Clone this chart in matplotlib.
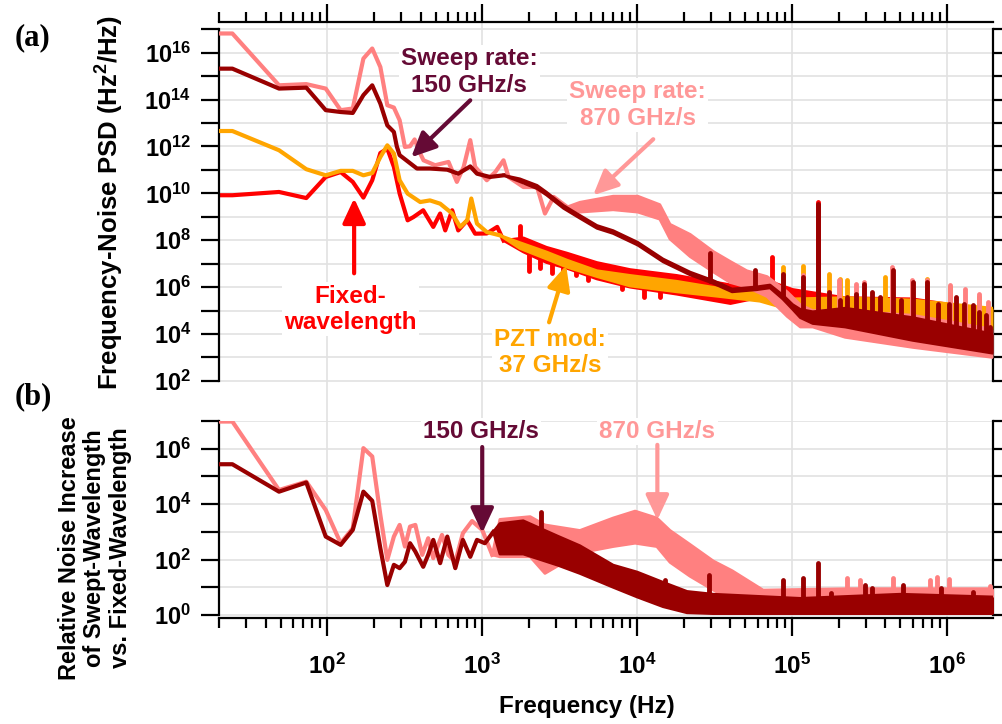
import numpy as np
import matplotlib
matplotlib.use("Agg")
import matplotlib.pyplot as plt
from matplotlib.ticker import FixedLocator, NullLocator, NullFormatter

plt.rcParams['font.family'] = ['Liberation Sans', 'DejaVu Sans']
plt.rcParams['font.weight'] = 'bold'
plt.rcParams['mathtext.fontset'] = 'custom'
plt.rcParams['mathtext.rm'] = 'Liberation Sans:bold'
plt.rcParams['mathtext.bf'] = 'Liberation Sans:bold'
plt.rcParams['mathtext.it'] = 'Liberation Sans:bold:italic'
plt.rcParams['mathtext.default'] = 'rm'

PINK = '#ff8080'
DRED = '#990000'
RED = '#ff0000'
ORNG = '#ffa500'

# ---- panel (a): frequency-noise PSD, values are log10(Hz^2/Hz) ----
# sweep 870 GHz/s
pink_f = [20, 24.4, 48.8, 73.2, 97.7, 122, 146, 171, 195, 220, 244, 269, 293, 317, 342, 366,
          398, 418, 497, 548, 606, 686, 759, 837, 900, 1070, 1214, 1372, 1478, 1846, 2260,
          2540, 2890, 3530]
pink_y = [16.82, 16.82, 14.61, 14.66, 14.47, 13.55, 13.62, 15.75, 16.18, 15.39, 13.76, 13.66,
          13.12, 11.98, 12.01, 12.3, 11.70, 11.41, 11.2, 11.27, 11.34, 10.49, 11.13, 12.27,
          11.13, 10.56, 10.91, 11.41, 10.7, 10.27, 10.27, 9.14, 9.85, 9.42]
pink_bf = [3530, 4270, 7000, 10100, 14000, 16300, 22000, 31000, 39800, 51000, 69000, 93000,
           113000, 136000, 220000, 600000, 1980000]
pink_lo = [9.42, 9.2, 9.3, 9.2, 8.9, 8.05, 7.3, 6.65, 6.2, 6.0, 5.6, 4.75, 4.3, 4.3,
           3.86, 3.43, 3.0]
pink_hi = [9.42, 9.62, 9.88, 9.88, 9.52, 8.68, 8.25, 7.52, 7.1, 6.7, 6.45, 5.8, 5.25, 5.0,
           5.0, 4.8, 4.2]
pink_sf = [118000, 174000, 200000, 257000, 290000, 440000, 590000, 740000, 1040000, 1300000,
           1600000, 1850000]
pink_sv = [6.5, 5.79, 6.29, 6.15, 6.22, 6.86, 6.29, 6.29, 6.08, 5.93, 5.72, 5.37]

# sweep 150 GHz/s
dred_f = [20, 24.4, 48.8, 73.2, 97.7, 122, 146, 171, 195, 220, 244, 269, 281, 293, 379, 460,
          595, 700, 837, 925, 1120, 1372]
dred_y = [15.32, 15.32, 14.47, 14.51, 13.55, 13.47, 13.43, 14.19, 14.61, 13.83, 12.9, 12.62,
          12.0, 11.63, 11.06, 11.06, 11.01, 10.84, 11.15, 10.84, 10.70, 10.77]
dred_bf = [1372, 1750, 2260, 2600, 3350, 4270, 5500, 7000, 10100, 14700, 22000, 31000, 41000,
           59000, 72000, 87000, 101000, 113000, 136000, 220000, 600000, 1980000]
dred_lo = [10.77, 10.5, 10.2, 9.93, 9.36, 8.94, 8.51, 8.29, 7.79, 7.08, 6.52, 6.16, 5.8, 5.89,
           5.97, 5.5, 5.05, 4.7, 4.45, 4.3, 3.73, 3.18]
dred_hi = [10.77, 10.62, 10.34, 10.05, 9.48, 9.06, 8.63, 8.41, 7.91, 7.2, 6.64, 6.28, 5.92,
           6.01, 6.09, 5.66, 5.25, 5.05, 4.95, 5.1, 4.7, 4.0]
dred_sf = [29500, 58000, 87000, 118000, 148000, 174000, 205000, 227000, 260000, 290000, 330000,
           370000, 445000, 506000, 600000, 740000, 880000, 1030000, 1150000, 1290000, 1470000,
           1600000, 1780000, 1900000]
dred_sv = [7.44, 6.72, 6.58, 6.43, 9.56, 5.79, 5.44, 5.58, 5.72, 6.15, 5.79, 5.58, 6.72, 5.44,
           6.22, 6.22, 5.30, 5.30, 5.58, 5.30, 5.22, 4.94, 4.80, 4.30]

# fixed wavelength
red_f = [20, 24.4, 48.8, 73.2, 97.7, 122, 146, 171, 195, 220, 244, 269, 293, 330, 360, 416,
         483, 535, 577, 640, 700, 800, 900, 1070, 1250, 1372]
red_y = [9.92, 9.92, 10.06, 9.80, 10.70, 10.91, 10.49, 9.82, 10.56, 11.72, 11.91, 11.13, 9.99,
         8.85, 8.99, 9.28, 8.57, 9.14, 8.42, 9.28, 8.42, 8.85, 8.28, 8.29, 8.57, 7.99]
red_bf = [1372, 1846, 2600, 3530, 5500, 9000, 18000, 40000, 56000, 101000, 220000, 600000,
          1980000]
red_lo = [7.99, 7.5, 7.05, 6.8, 6.35, 6.0, 5.7, 5.3, 5.5, 5.3, 5.0, 4.8, 4.2]
red_hi = [7.99, 8.1, 7.7, 7.45, 7.05, 6.75, 6.5, 6.1, 6.5, 5.9, 5.55, 5.5, 5.0]
red_sf = [1750, 2000, 2350, 2800, 3300, 4000, 4800, 8000, 11000, 14000, 74000, 148000]
red_sv = [8.6, 6.7, 6.8, 6.6, 6.7, 6.5, 6.3, 5.9, 5.6, 5.6, 7.28, 9.62]

# PZT modulation 37 GHz/s
orng_f = [20, 24.4, 48.8, 73.2, 97.7, 122, 146, 171, 195, 220, 244, 269, 293, 330, 398, 460,
          535, 640, 720, 800, 850, 925, 1070, 1300]
orng_y = [12.66, 12.66, 11.84, 11.03, 10.77, 10.96, 10.96, 10.77, 10.87, 11.55, 12.05, 11.7,
          10.56, 9.99, 9.63, 9.7, 9.56, 9.14, 8.57, 8.85, 9.78, 8.71, 8.35, 8.21]
orng_bf = [1300, 1750, 2600, 3530, 5500, 9000, 18000, 34000, 62000, 101000, 220000, 600000,
           1980000]
orng_lo = [8.21, 7.65, 7.2, 6.85, 6.45, 6.05, 5.8, 5.6, 5.4, 5.0, 4.8, 4.6, 4.2]
orng_hi = [8.21, 7.9, 7.5, 7.15, 6.7, 6.5, 6.25, 5.95, 5.8, 5.5, 5.55, 5.45, 5.1]
orng_sf = [87000, 118000, 174000, 205000, 227000, 400000, 740000, 1050000, 1600000]
orng_sv = [6.86, 6.9, 6.58, 6.36, 6.29, 6.43, 6.36, 6.0, 5.58]

# ---- panel (b): relative noise increase, log10 ----
rpink_f = [20, 24.4, 48.8, 73.2, 97.7, 122, 146, 171, 195, 220, 244, 269, 293, 317, 342, 370,
           410, 448, 483, 550, 605, 670, 750, 860, 1000, 1160]
rpink_y = [6.98, 6.98, 4.51, 4.81, 3.79, 2.59, 3.13, 6.02, 5.72, 3.61, 1.99, 2.83, 3.25, 2.47,
           3.19, 3.25, 2.17, 2.77, 2.05, 2.89, 2.17, 1.92, 2.95, 3.39, 3.07, 2.17]
rpink_bf = [1160, 1300, 2040, 2540, 4270, 7000, 9700, 13400, 16300, 21900, 31000, 41000, 65000,
            230000, 2000000]
rpink_lo = [2.17, 2.1, 2.1, 1.5, 2.24, 2.47, 2.59, 2.47, 1.9, 1.4, 0.9, 0.54, 0.05, 0.05, 0.05]
rpink_hi = [2.17, 3.45, 3.55, 3.25, 3.05, 3.5, 3.75, 3.5, 3.05, 2.55, 1.95, 1.6, 0.9, 0.95, 0.95]
rpink_sf = [225000, 275000, 450000, 780000, 860000, 1030000, 1900000]
rpink_sv = [1.33, 1.28, 1.33, 1.28, 1.38, 1.3, 1.05]

rdred_f = [20, 24.4, 48.8, 73.2, 97.7, 122, 146, 171, 195, 220, 244, 269, 293, 317, 342, 370,
           416, 448, 483, 535, 595, 670, 750, 837, 925, 1040, 1180]
rdred_y = [5.44, 5.44, 4.45, 4.78, 2.83, 2.53, 3.07, 4.45, 4.12, 2.41, 1.08, 1.81, 1.69, 1.92,
           2.59, 2.29, 1.74, 2.17, 2.71, 1.87, 2.83, 1.69, 2.71, 2.10, 2.71, 2.59, 3.0]
rdred_bf = [1180, 1300, 1840, 3060, 4270, 7000, 10000, 14700, 21000, 31000, 113000, 500000,
            2000000]
rdred_lo = [3.0, 2.2, 2.2, 1.8, 1.5, 1.0, 0.65, 0.3, 0.08, 0.05, 0.05, 0.05, 0.05]
rdred_hi = [3.0, 3.3, 3.4, 2.85, 2.5, 1.8, 1.55, 1.18, 0.85, 0.75, 0.6, 0.75, 0.65]
rdred_sf = [2390, 15100, 29300, 87000, 118000, 148000, 177000, 296000, 330000, 520000, 910000,
            1460000]
rdred_sv = [3.73, 1.26, 1.44, 1.26, 1.32, 1.89, 0.78, 1.08, 0.96, 1.08, 0.96, 0.84]


def draw(ax, f, y, bf, lo, hi, sf, sv, c, z):
    ax.plot(f, 10 ** np.array(y), color=c, lw=3, zorder=z, solid_joinstyle='round')
    lo_a = 10 ** np.array(lo)
    hi_a = 10 ** np.array(hi)
    ax.fill_between(bf, lo_a, hi_a, color=c, lw=0, zorder=z)
    ax.plot(bf, lo_a, color=c, lw=2, zorder=z)
    ax.plot(bf, hi_a, color=c, lw=2, zorder=z)
    if sf:
        base = np.interp(np.log10(sf), np.log10(bf), (np.array(lo) + np.array(hi)) / 2)
        vl = ax.vlines(sf, 10 ** base, 10 ** np.array(sv), color=c, lw=3.5, zorder=z)
        vl.set_capstyle('round')


fig = plt.figure(figsize=(10.02, 7.24), dpi=100)
W, H = 1002, 724
axa = fig.add_axes([219 / W, 1 - 421 / H, 774 / W, 399 / H])
axb = fig.add_axes([219 / W, 1 - 618 / H, 774 / W, 197 / H])

draw(axa, red_f, red_y, red_bf, red_lo, red_hi, red_sf, red_sv, RED, 2)
draw(axa, orng_f, orng_y, orng_bf, orng_lo, orng_hi, orng_sf, orng_sv, ORNG, 3)
draw(axa, pink_f, pink_y, pink_bf, pink_lo, pink_hi, pink_sf, pink_sv, PINK, 4)
draw(axa, dred_f, dred_y, dred_bf, dred_lo, dred_hi, dred_sf, dred_sv, DRED, 5)

draw(axb, rpink_f, rpink_y, rpink_bf, rpink_lo, rpink_hi, rpink_sf, rpink_sv, PINK, 4)
draw(axb, rdred_f, rdred_y, rdred_bf, rdred_lo, rdred_hi, rdred_sf, rdred_sv, DRED, 5)

xmaj = [1e2, 1e3, 1e4, 1e5, 1e6]
xmin = [m * 10 ** d for d in range(1, 7) for m in range(2, 10) if 20 <= m * 10 ** d <= 2e6]


def sup(v):
    return r'$10^{%d}$' % round(np.log10(v))


for ax, ylo, yhi, lab in [(axa, 10 ** 0.29, 10 ** 17.31, range(2, 18)),
                          (axb, 10 ** -0.108, 1e7, range(0, 8))]:
    ax.set_xscale('log')
    ax.set_yscale('log')
    ax.set_xlim(20, 1.98e6)
    ax.set_ylim(ylo, yhi)
    ax.xaxis.set_major_locator(FixedLocator(xmaj))
    ax.xaxis.set_minor_locator(FixedLocator(xmin))
    ax.xaxis.set_minor_formatter(NullFormatter())
    yt = [10.0 ** e for e in lab]
    ax.yaxis.set_major_locator(FixedLocator(yt))
    ax.yaxis.set_minor_locator(NullLocator())
    ax.set_yticklabels([sup(v) if round(np.log10(v)) % 2 == 0 else '' for v in yt])
    ax.grid(True, which='major', color='#e2e2e2', lw=1.2, zorder=0)
    ax.set_axisbelow(True)
    for s in ax.spines.values():
        s.set_linewidth(1.6)
    ax.spines['left'].set_bounds(yt[0], yt[-1])
    ax.spines['right'].set_bounds(yt[0], yt[-1])
    ax.tick_params(axis='y', which='major', direction='out', length=13, width=1.6,
                   left=True, right=True, labelsize=17, pad=7)
    ax.tick_params(axis='x', which='major', direction='out', length=13, width=1.6, labelsize=17.5,
                   pad=13)
    ax.tick_params(axis='x', which='minor', direction='out', length=7, width=1.6)
    ax.patch.set_alpha(0)

axa.spines['bottom'].set_visible(False)
axa.xaxis.tick_top()
axa.tick_params(axis='x', which='both', labeltop=False)
axb.spines['top'].set_visible(False)
axb.set_xticklabels([sup(v) for v in xmaj])


# annotations
def note(ax, txt, xy, c):
    ax.text(xy[0], xy[1], txt, color=c, fontsize=17.5, fontweight='bold', ha='center',
            va='center', linespacing=1.2, zorder=10,
            bbox=dict(fc='white', ec='none', pad=1.5))


def arrow(ax, tail, head, c):
    ax.annotate('', xy=head, xytext=tail, zorder=11,
                arrowprops=dict(arrowstyle='-|>,head_length=0.75,head_width=0.35', color=c,
                                lw=3, mutation_scale=20, shrinkA=0, shrinkB=0))


MAROON = '#650a35'
LPINK = '#ff9898'
note(axa, 'Sweep rate:\n150 GHz/s', (824, 10 ** 15.17), MAROON)
arrow(axa, (837, 10 ** 13.97), (348, 10 ** 11.54), MAROON)
note(axa, 'Sweep rate:\n870 GHz/s', (10100, 10 ** 13.76), LPINK)
arrow(axa, (12700, 10 ** 12.31), (5200, 10 ** 9.92), LPINK)
note(axa, 'Fixed-\nwavelength', (141, 10 ** 5.05), RED)
arrow(axa, (149, 10 ** 6.59), (149, 10 ** 9.79), RED)
note(axa, 'PZT mod:\n37 GHz/s', (2750, 10 ** 3.22), ORNG)
arrow(axa, (2700, 10 ** 4.5), (3480, 10 ** 6.93), ORNG)

note(axb, '150 GHz/s', (985, 10 ** 6.61), MAROON)
arrow(axb, (1000, 10 ** 6.06), (1000, 10 ** 2.96), MAROON)
note(axb, '870 GHz/s', (13500, 10 ** 6.61), LPINK)
arrow(axb, (13500, 10 ** 6.14), (13500, 10 ** 3.43), LPINK)

fig.text(110 / W, 1 - 202 / H, 'Frequency-Noise PSD (Hz$^2$/Hz)', rotation=90, ha='center',
         va='center', fontsize=18.5, fontweight='bold')
fig.text(95 / W, 1 - 548 / H, 'Relative Noise Increase\nof Swept-Wavelength\nvs. Fixed-Wavelength',
         rotation=90, ha='center', va='center', fontsize=17, fontweight='bold', linespacing=1.15)
fig.text(587 / W, 1 - 707 / H, 'Frequency (Hz)', ha='center', va='center', fontsize=17.5,
         fontweight='bold')
fig.text(33 / W, 1 - 38 / H, '(a)', family='Liberation Serif', fontsize=22, fontweight='bold',
         ha='center', va='center')
fig.text(33 / W, 1 - 397 / H, '(b)', family='Liberation Serif', fontsize=22, fontweight='bold',
         ha='center', va='center')

fig.savefig('out.png', dpi=100)
